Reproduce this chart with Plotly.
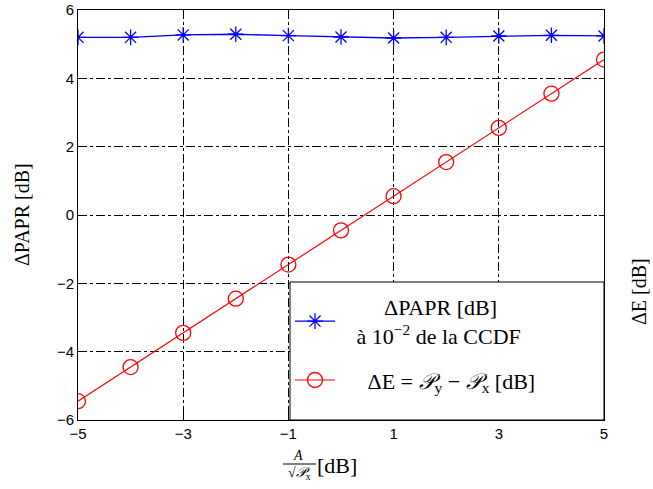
import plotly.graph_objects as go

# data
x_db = [-5, -4, -3, -2, -1, 0, 1, 2, 3, 4, 5]
delta_papr = [5.20, 5.20, 5.27, 5.29, 5.25, 5.21, 5.18, 5.20, 5.24, 5.26, 5.24]
delta_e = [-5.45, -4.45, -3.45, -2.45, -1.45, -0.45, 0.55, 1.55, 2.55, 3.55, 4.55]
x_ticks = [-5, -3, -1, 1, 3, 5]
y_ticks = [-6, -4, -2, 0, 2, 4, 6]

W, H = 653, 489
L, R, T, B = 78, 49, 10, 69
PW, PH = W - L - R, H - T - B

SERIF = "Liberation Serif, Times New Roman, serif"
SANS = "Liberation Sans, Arial, sans-serif"
NB = "&nbsp;"


def px(xp):
    return (xp - L) / PW


def py(yp):
    return (H - B - yp) / PH


def label(text, x, y, size, angle=0):
    return dict(text=text, textangle=angle, xref="paper", yref="paper",
                x=px(x), y=py(y), xanchor="center", yanchor="middle",
                showarrow=False, font=dict(family=SERIF, size=size, color="black"))


fig = go.Figure()
fig.add_trace(go.Scatter(
    x=x_db, y=delta_papr, mode="lines+markers", legendgroup="a",
    name=NB * 8 + "ΔPAPR [dB]<br>" + NB * 3 + "à 10<sup>−2</sup> de la CCDF",
    line=dict(color="#0000ff", width=1.3),
    marker=dict(symbol="asterisk-open", size=13, line=dict(color="#0000ff", width=1.3)),
))
fig.add_trace(go.Scatter(
    x=x_db, y=delta_e, mode="lines+markers", legendgroup="b",
    name=NB * 5 + "ΔE = <i>𝒫</i><sub>y</sub> − <i>𝒫</i><sub>x</sub> [dB]",
    line=dict(color="#ff0000", width=1.2),
    marker=dict(symbol="circle-open", size=15, line=dict(color="#ff0000", width=1.3)),
))

axis_common = dict(
    showline=True, linecolor="black", linewidth=1, mirror="ticks",
    ticks="inside", ticklen=5, tickcolor="black", automargin=False,
    showgrid=True, gridcolor="black", gridwidth=0.7, griddash="dashdot",
    zeroline=False, tickfont=dict(family=SANS, size=15, color="black"),
)
fig.update_xaxes(range=[-5, 5], tickvals=x_ticks, ticktext=["−5", "−3", "−1", "1", "3", "5"], **axis_common)
fig.update_yaxes(range=[-6, 6], tickvals=y_ticks, ticktext=["−6", "−4", "−2", "0", "2", "4", "6"], **axis_common)

fig.update_layout(
    width=W, height=H,
    margin=dict(l=L, r=R, t=T, b=B, autoexpand=False),
    paper_bgcolor="white", plot_bgcolor="white",
    showlegend=True,
    legend=dict(
        x=px(290), y=py(286), xanchor="left", yanchor="top",
        bgcolor="rgba(0,0,0,0)", borderwidth=0,
        font=dict(family=SERIF, size=22, color="black"),
        tracegroupgap=13, itemwidth=40,
    ),
    annotations=[
        label("ΔPAPR [dB]", 22, 215, 20, -90),
        label("ΔE [dB]", 639, 292, 20, -90),
        label("<i>A</i>", 298, 455, 14),
        label("√<i>𝒫</i><sub>x</sub>", 299, 473, 14),
        label("[dB]", 337, 465, 22),
    ],
    shapes=[
        # legend frame
        dict(type="rect", xref="paper", yref="paper", layer="above",
             x0=px(290), x1=px(604), y0=py(282), y1=py(420),
             fillcolor="white", line=dict(color="black", width=1)),
        # fraction bar of the x title
        dict(type="line", xref="paper", yref="paper",
             x0=px(283), x1=px(316), y0=py(464), y1=py(464),
             line=dict(color="black", width=1)),
    ],
)

fig.write_html("out.html", config={"displayModeBar": False},
               post_script="document.body.style.margin='0px';")
